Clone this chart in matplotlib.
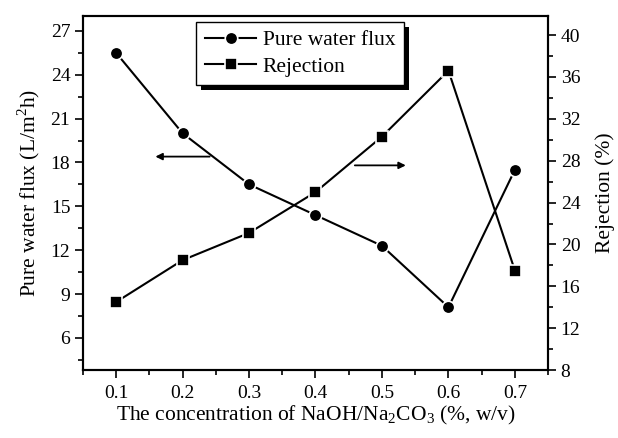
#NaOH/Na2CO3濃度に対する純水フラックスと阻止率の2軸プロット

import matplotlib
matplotlib.use('Agg')
import matplotlib.pyplot as plt
from matplotlib.ticker import MultipleLocator
from matplotlib.patches import Rectangle


#データ
conc = [0.1, 0.2, 0.3, 0.4, 0.5, 0.6, 0.7]
flux = [25.5, 20.0, 16.5, 14.4, 12.3, 8.1, 17.5]
rejection = [14.5, 18.5, 21.1, 25.0, 30.3, 36.6, 17.5]

plt.rcParams['font.family'] = ['Liberation Serif', 'DejaVu Serif']
plt.rcParams['mathtext.fontset'] = 'custom'
plt.rcParams['mathtext.rm'] = 'Liberation Serif'


#目盛りの体裁をそろえる
def style_ticks(ax):
    ax.tick_params(which='major', direction='out', length=6, width=1.2, labelsize=14)
    ax.tick_params(which='minor', direction='out', length=3.5, width=1.2)


def main():
    fig = plt.figure(figsize=(6.18, 4.38), dpi=100)
    ax = fig.add_axes([0.134, 0.155, 0.753, 0.808])
    ax2 = ax.twinx()

    #純水フラックス（左軸）
    l1, = ax.plot(conc, flux, '-o', color='black', lw=1.5, ms=9,
                  mec='white', mew=1.2, label='Pure water flux')
    #阻止率（右軸）
    l2, = ax2.plot(conc, rejection, '-s', color='black', lw=1.5, ms=8.5,
                   mec='white', mew=1.2, label='Rejection')

    ax.set_xlim(0.05, 0.75)
    ax.set_ylim(3.8, 28)
    ax2.set_ylim(8, 41.8)

    ax.xaxis.set_major_locator(MultipleLocator(0.1))
    ax.xaxis.set_minor_locator(MultipleLocator(0.05))
    ax.yaxis.set_major_locator(MultipleLocator(3))
    ax.yaxis.set_minor_locator(MultipleLocator(1.5))
    ax2.yaxis.set_major_locator(MultipleLocator(4))
    ax2.yaxis.set_minor_locator(MultipleLocator(2))
    style_ticks(ax)
    style_ticks(ax2)
    ax.tick_params(axis='x', pad=5)
    ax.tick_params(axis='y', pad=3)
    ax2.tick_params(axis='y', pad=3)

    for a in (ax, ax2):
        for s in a.spines.values():
            s.set_linewidth(1.5)

    ax.set_xlabel(r'The concentration of NaOH/Na$_\mathregular{2}$CO$_\mathregular{3}$ (%, w/v)',
                  fontsize=15.5, labelpad=1)
    ax.set_ylabel(r'Pure water flux (L/m$^\mathregular{2}$h)', fontsize=15.5, labelpad=6)
    ax2.set_ylabel('Rejection (%)', fontsize=15.5, labelpad=11)

    #軸を示す矢印
    ax.annotate('', xy=(0.155, 18.4), xytext=(0.245, 18.4),
                arrowprops=dict(arrowstyle='-|>', color='black', lw=1.3, mutation_scale=10))
    ax.annotate('', xy=(0.54, 17.8), xytext=(0.455, 17.8),
                arrowprops=dict(arrowstyle='-|>', color='black', lw=1.3, mutation_scale=10))

    #凡例（影付き）
    leg = ax2.legend(handles=[l1, l2], loc='upper left', bbox_to_anchor=(0.232, 1.0),
                     fontsize=15.5, frameon=True, fancybox=False, edgecolor='black',
                     framealpha=1, handlelength=2.4, handletextpad=0.3,
                     borderpad=0.4, labelspacing=0.3, borderaxespad=0.25)
    leg.get_frame().set_linewidth(1.0)
    leg.set_zorder(10)

    fig.canvas.draw()
    bb = leg.get_window_extent()
    shadow = Rectangle((bb.x0 + 5, bb.y0 - 5), bb.width, bb.height,
                       transform=None, facecolor='black', edgecolor='none', zorder=9)
    ax2.add_artist(shadow)

    fig.savefig('out.png', dpi=100)


if __name__ == '__main__':
    main()
